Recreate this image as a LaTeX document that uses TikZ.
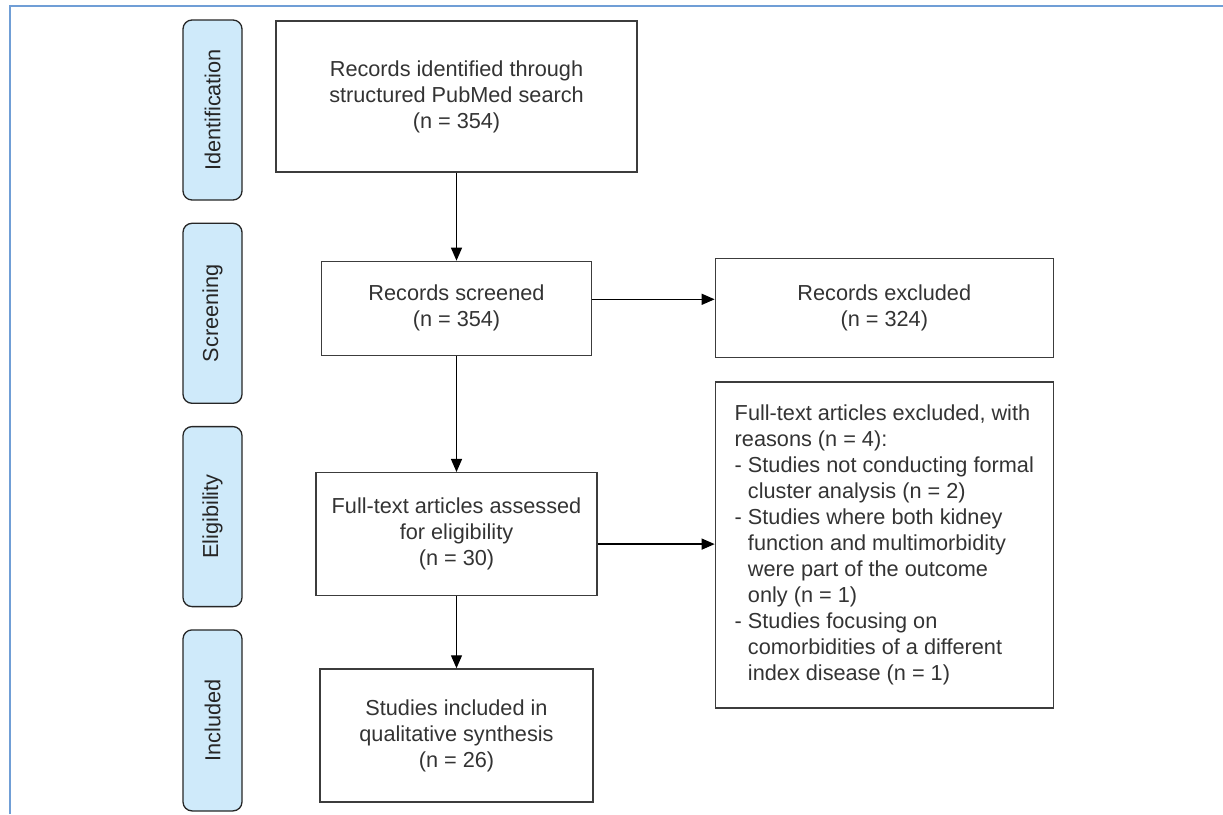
\documentclass[tikz,border=0pt]{standalone}
\usepackage{fontspec}
\setmainfont{Liberation Sans}
\usetikzlibrary{positioning, arrows.meta}
\definecolor{phasefill}{RGB}{207,234,250}
\definecolor{boxline}{RGB}{60,60,60}
\definecolor{frameblue}{RGB}{112,158,214}
\tikzset{
  box/.style={draw=boxline, line width=1.3pt, align=center, inner sep=0pt, text=black!80},
  phase/.style={draw=black!85, fill=phasefill, rounded corners=9pt, line width=1.3pt,
    minimum width=59pt, minimum height=180pt, inner sep=0pt, text=black!85},
  flow/.style={-{Triangle[length=13pt,width=11pt]}, line width=1.3pt},
  node distance=22pt
}

\begin{document}
\begin{tikzpicture}[x=1pt, y=-1pt, font=\fontsize{21.7pt}{26pt}\selectfont]
  \useasboundingbox (0,0) rectangle (1223,814);
  \draw[frameblue, line width=2pt] (10,814) -- (10,6) -- (1223,6);

  % phases
  \node[phase] (ph1) at (212.5,110) {\rotatebox{90}{Identification}};
  \node[phase, below=of ph1] (ph2) {\rotatebox{90}{Screening}};
  \node[phase, below=of ph2] (ph3) {\rotatebox{90}{Eligibility}};
  \node[phase, below=of ph3, minimum height=181pt] (ph4) {\rotatebox{90}{Included}};

  % flow boxes
  \node[box, minimum width=361pt, minimum height=151pt] (ident) at (456.5,96.5)
    {Records identified through\\structured PubMed search\\(n = 354)};
  \node[box, minimum width=270pt, minimum height=94pt, below=88pt of ident] (screen)
    {Records screened\\(n = 354)};
  \node[box, minimum width=338pt, minimum height=99pt, right=122.5pt of screen] (excl)
    {Records excluded\\(n = 324)};
  \node[box, minimum width=281pt, minimum height=123pt, below=116pt of screen] (full)
    {Full-text articles assessed\\for eligibility\\(n = 30)};
  \node[box, align=left, minimum width=338pt, minimum height=326pt,
        below=23pt of excl] (reasons)
    {Full-text articles excluded, with\\
     reasons (n = 4):\\
     - Studies not conducting formal\\
     \phantom{- }cluster analysis (n = 2)\\
     - Studies where both kidney\\
     \phantom{- }function and multimorbidity\\
     \phantom{- }were part of the outcome\\
     \phantom{- }only (n = 1)\\
     - Studies focusing on\\
     \phantom{- }comorbidities of a different\\
     \phantom{- }index disease (n = 1)};
  \node[box, minimum width=273pt, minimum height=133pt, below=72pt of full] (incl)
    {Studies included in\\qualitative synthesis\\(n = 26)};

  \draw[flow] (ident) -- (screen);
  \draw[flow] ([yshift=9pt]screen.east) -- ([yshift=9pt]excl.west);
  \draw[flow] (screen) -- (full);
  \draw[flow] ([yshift=-10pt]full.east) -- ([yshift=-10pt]full.east -| reasons.west);
  \draw[flow] (full) -- (incl);
\end{tikzpicture}
\end{document}
